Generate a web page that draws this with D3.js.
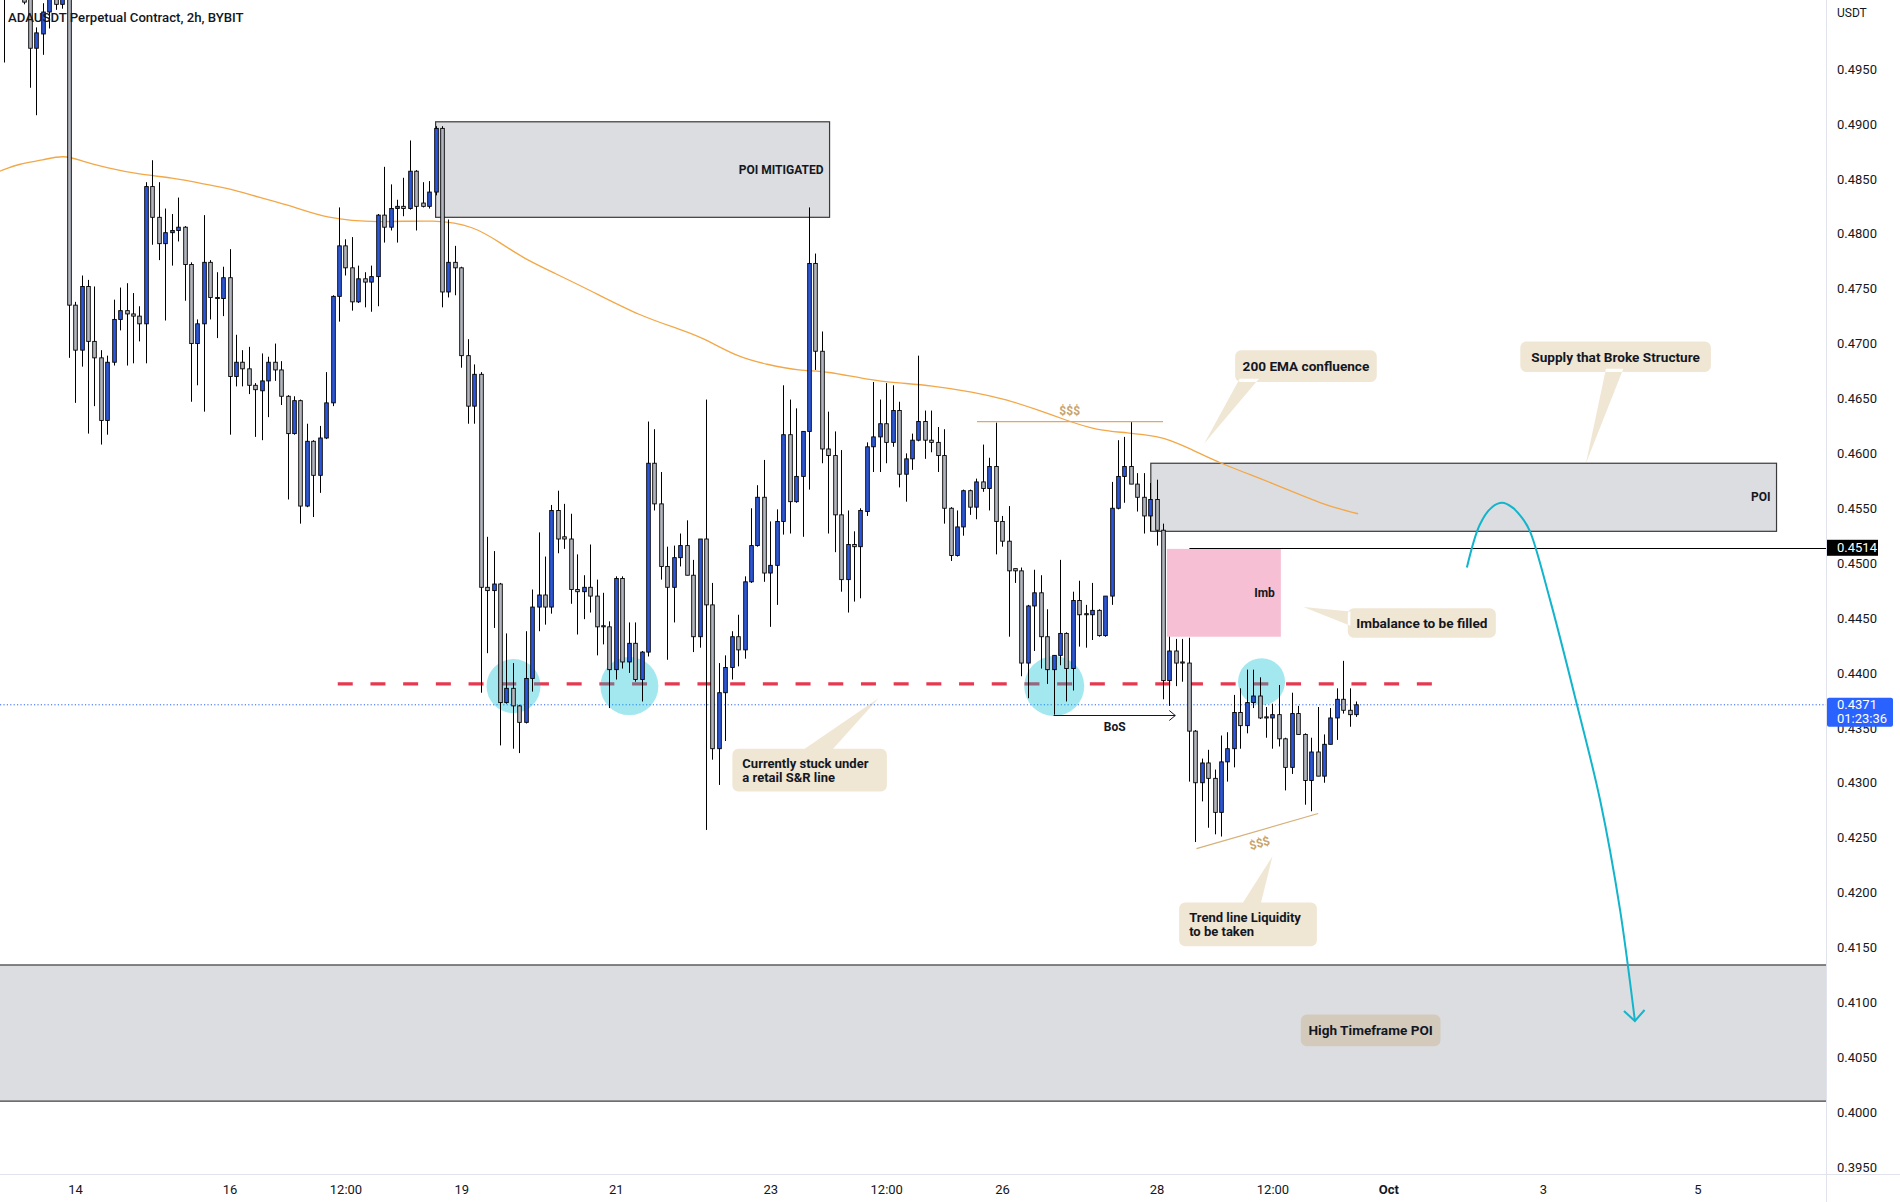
<!DOCTYPE html>
<html><head><meta charset="utf-8">
<script src="https://cdn.jsdelivr.net/npm/d3@7"></script>
<style>
html,body{margin:0;padding:0;background:#fff;}
svg{display:block;font-family:Roboto,"Liberation Sans",sans-serif;}
</style></head><body>
<svg id="chart" width="1900" height="1202"></svg>
<script>
// ---------------- DATA ----------------
const title = "ADAUSDT Perpetual Contract, 2h, BYBIT";
const firstCandleUTC = Date.UTC(2022, 8, 13, 2); // Sep 13 02:00, 2h bars
// [open, high, low, close]
const ohlc = [
[0.5035,0.5040,0.4956,0.5020],[0.5020,0.5060,0.5015,0.5045],[0.5045,0.5070,0.5018,0.5025],[0.5025,0.5030,0.5009,0.5011],
[0.5018,0.5022,0.4933,0.4969],[0.4969,0.4988,0.4908,0.4983],[0.4982,0.5010,0.4963,0.5002],[0.5002,0.5022,0.4987,0.5016],
[0.5020,0.5026,0.5004,0.5009],[0.5009,0.5024,0.5005,0.5018],[0.5018,0.5024,0.4687,0.4735],
[0.4735,0.4738,0.4646,0.4694],[0.4694,0.4762,0.4679,0.4752],[0.4752,0.4758,0.4618,0.4702],[0.4702,0.4752,0.4643,0.4687],
[0.4687,0.4694,0.4608,0.4630],[0.4630,0.4689,0.4617,0.4683],[0.4683,0.4740,0.4680,0.4722],[0.4722,0.4751,0.4712,0.4730],
[0.4730,0.4755,0.4680,0.4727],[0.4727,0.4746,0.4682,0.4725],[0.4725,0.4734,0.4702,0.4718],[0.4718,0.4847,0.4682,0.4843],
[0.4843,0.4867,0.4790,0.4815],[0.4815,0.4847,0.4776,0.4791],[0.4791,0.4823,0.4721,0.4801],[0.4801,0.4818,0.4771,0.4803],
[0.4803,0.4833,0.4793,0.4806],[0.4806,0.4807,0.4739,0.4772],[0.4772,0.4774,0.4647,0.4700],[0.4700,0.4722,0.4662,0.4718],
[0.4718,0.4817,0.4638,0.4774],[0.4774,0.4776,0.4722,0.4742],[0.4742,0.4765,0.4705,0.4741],[0.4741,0.4770,0.4725,0.4760],
[0.4760,0.4786,0.4617,0.4670],[0.4670,0.4708,0.4661,0.4683],[0.4683,0.4694,0.4661,0.4677],[0.4677,0.4697,0.4654,0.4662],
[0.4662,0.4664,0.4615,0.4658],[0.4657,0.4691,0.4612,0.4666],[0.4666,0.4688,0.4633,0.4683],[0.4683,0.4700,0.4666,0.4676],
[0.4676,0.4684,0.4644,0.4652],[0.4652,0.4653,0.4558,0.4618],[0.4618,0.4652,0.4617,0.4648],[0.4648,0.4649,0.4536,0.4552],
[0.4552,0.4627,0.4551,0.4611],[0.4611,0.4612,0.4542,0.4580],[0.4580,0.4625,0.4564,0.4614],[0.4614,0.4674,0.4613,0.4646],
[0.4646,0.4744,0.4643,0.4743],[0.4743,0.4824,0.4720,0.4789],[0.4789,0.4795,0.4762,0.4769],[0.4769,0.4797,0.4730,0.4738],
[0.4738,0.4771,0.4737,0.4759],[0.4759,0.4765,0.4733,0.4756],[0.4756,0.4771,0.4729,0.4761],[0.4761,0.4818,0.4734,0.4817],
[0.4817,0.4861,0.4792,0.4806],[0.4806,0.4845,0.4803,0.4823],[0.4823,0.4831,0.4792,0.4825],[0.4825,0.4851,0.4816,0.4823],
[0.4823,0.4885,0.4822,0.4857],[0.4857,0.4858,0.4803,0.4825],[0.4828,0.4847,0.4824,0.4825],[0.4825,0.4848,0.4823,0.4838],
[0.4838,0.4898,0.4835,0.4896],[0.4896,0.4898,0.4733,0.4747],[0.4747,0.4813,0.4742,0.4774],[0.4774,0.4789,0.4744,0.4769],
[0.4769,0.4770,0.4678,0.4689],[0.4689,0.4704,0.4627,0.4643],[0.4643,0.4681,0.4627,0.4672],[0.4672,0.4674,0.4382,0.4478],
[0.4478,0.4524,0.4418,0.4475],[0.4475,0.4511,0.4441,0.4481],[0.4481,0.4482,0.4334,0.4373],[0.4373,0.4436,0.4372,0.4386],
[0.4386,0.4409,0.4331,0.4370],[0.4370,0.4371,0.4327,0.4355],[0.4355,0.4438,0.4354,0.4395],[0.4395,0.4476,0.4383,0.4460],
[0.4460,0.4528,0.4438,0.4471],[0.4471,0.4506,0.4444,0.4460],[0.4460,0.4553,0.4454,0.4548],[0.4548,0.4566,0.4509,0.4522],
[0.4524,0.4554,0.4513,0.4522],[0.4522,0.4545,0.4463,0.4476],[0.4476,0.4508,0.4435,0.4474],[0.4474,0.4489,0.4449,0.4478],
[0.4478,0.4517,0.4455,0.4470],[0.4470,0.4485,0.4416,0.4442],[0.4443,0.4473,0.4426,0.4442],[0.4442,0.4447,0.4368,0.4403],
[0.4403,0.4488,0.4394,0.4486],[0.4486,0.4488,0.4404,0.4410],[0.4410,0.4446,0.4400,0.4427],[0.4427,0.4446,0.4392,0.4394],
[0.4394,0.4420,0.4374,0.4419],[0.4419,0.4629,0.4415,0.4591],[0.4591,0.4622,0.4548,0.4554],[0.4554,0.4583,0.4485,0.4497],
[0.4497,0.4515,0.4412,0.4478],[0.4478,0.4516,0.4446,0.4505],[0.4505,0.4527,0.4497,0.4516],[0.4516,0.4539,0.4489,0.4489],
[0.4489,0.4503,0.4419,0.4433],[0.4433,0.4522,0.4423,0.4522],[0.4522,0.4649,0.4257,0.4462],[0.4462,0.4482,0.4321,0.4331],
[0.4331,0.4409,0.4298,0.4382],[0.4382,0.4416,0.4338,0.4405],[0.4405,0.4438,0.4394,0.4433],[0.4433,0.4453,0.4406,0.4421],
[0.4421,0.4488,0.4413,0.4483],[0.4483,0.4550,0.4482,0.4516],[0.4516,0.4571,0.4515,0.4560],[0.4560,0.4594,0.4483,0.4491],
[0.4491,0.4538,0.4442,0.4498],[0.4498,0.4549,0.4462,0.4538],[0.4538,0.4662,0.4526,0.4617],[0.4617,0.4649,0.4527,0.4556],
[0.4556,0.4641,0.4555,0.4579],[0.4579,0.4620,0.4524,0.4620],[0.4620,0.4824,0.4567,0.4773],[0.4773,0.4782,0.4676,0.4693],
[0.4693,0.4711,0.4591,0.4604],[0.4604,0.4638,0.4527,0.4598],[0.4598,0.4620,0.4510,0.4544],[0.4544,0.4603,0.4474,0.4485],
[0.4485,0.4548,0.4455,0.4517],[0.4517,0.4529,0.4465,0.4515],[0.4515,0.4550,0.4468,0.4548],[0.4547,0.4610,0.4543,0.4606],
[0.4606,0.4665,0.4583,0.4615],[0.4615,0.4649,0.4583,0.4627],[0.4627,0.4664,0.4591,0.4610],[0.4610,0.4662,0.4606,0.4639],
[0.4639,0.4647,0.4569,0.4581],[0.4581,0.4600,0.4556,0.4595],[0.4595,0.4618,0.4585,0.4612],[0.4612,0.4689,0.4611,0.4629],
[0.4629,0.4639,0.4595,0.4612],[0.4612,0.4639,0.4601,0.4610],[0.4610,0.4624,0.4583,0.4598],[0.4598,0.4622,0.4536,0.4550],
[0.4550,0.4551,0.4502,0.4507],[0.4507,0.4548,0.4506,0.4533],[0.4533,0.4567,0.4525,0.4566],[0.4566,0.4567,0.4544,0.4551],
[0.4551,0.4577,0.4540,0.4574],[0.4574,0.4608,0.4565,0.4568],[0.4568,0.4596,0.4548,0.4588],[0.4588,0.4628,0.4508,0.4538],
[0.4538,0.4543,0.4515,0.4520],[0.4520,0.4552,0.4433,0.4493],[0.4495,0.4495,0.4482,0.4493],[0.4493,0.4496,0.4397,0.4409],
[0.4409,0.4462,0.4377,0.4461],[0.4461,0.4494,0.4420,0.4473],[0.4473,0.4489,0.4404,0.4433],[0.4433,0.4458,0.4390,0.4403],
[0.4403,0.4416,0.4362,0.4416],[0.4416,0.4503,0.4407,0.4436],[0.4436,0.4437,0.4374,0.4404],[0.4404,0.4474,0.4384,0.4466],
[0.4466,0.4484,0.4424,0.4453],[0.4454,0.4462,0.4423,0.4453],[0.4453,0.4482,0.4430,0.4457],[0.4457,0.4458,0.4433,0.4434],
[0.4434,0.4470,0.4433,0.4470],[0.4470,0.4574,0.4462,0.4550],[0.4550,0.4612,0.4549,0.4579],[0.4579,0.4615,0.4555,0.4588],
[0.4588,0.4629,0.4572,0.4572],[0.4572,0.4582,0.4547,0.4560],[0.4560,0.4582,0.4527,0.4543],[0.4543,0.4573,0.4529,0.4558],
[0.4558,0.4576,0.4516,0.4530],[0.4530,0.4536,0.4376,0.4393],[0.4393,0.4433,0.4370,0.4420],[0.4420,0.4431,0.4388,0.4409],
[0.4410,0.4431,0.4392,0.4409],[0.4409,0.4432,0.4301,0.4347],[0.4347,0.4348,0.4246,0.4300],[0.4300,0.4322,0.4283,0.4318],
[0.4318,0.4330,0.4259,0.4304],[0.4304,0.4312,0.4253,0.4273],[0.4273,0.4343,0.4251,0.4319],[0.4319,0.4346,0.4301,0.4331],
[0.4331,0.4380,0.4314,0.4364],[0.4364,0.4386,0.4331,0.4352],[0.4352,0.4403,0.4345,0.4373],[0.4373,0.4403,0.4368,0.4379],
[0.4379,0.4396,0.4358,0.4359],[0.4360,0.4369,0.4341,0.4359],[0.4359,0.4372,0.4331,0.4362],[0.4362,0.4389,0.4333,0.4340],
[0.4340,0.4341,0.4293,0.4314],[0.4314,0.4382,0.4308,0.4363],[0.4363,0.4370,0.4344,0.4344],[0.4344,0.4345,0.4280,0.4302],
[0.4302,0.4341,0.4274,0.4328],[0.4328,0.4369,0.4306,0.4306],[0.4306,0.4344,0.4300,0.4335],[0.4335,0.4368,0.4335,0.4359],
[0.4359,0.4386,0.4339,0.4376],[0.4376,0.4411,0.4363,0.4366],[0.4366,0.4386,0.4351,0.4362],[0.4362,0.4374,0.4360,0.4371]
];
// 200 EMA, [bar index from Sep 14 00:00, value]
const emaPoints = [[-11.7,0.4857],[-8.6,0.4864],[-5,0.4867],[-1.8,0.4872],[1.2,0.4866],[4.9,0.4860],[10,0.4854],[15.2,0.4851],
[19.4,0.4846],[23.5,0.4842],[28.7,0.4833],[33.9,0.4825],[39,0.4814],[46.9,0.4810],[56.2,0.4813],[61.9,0.4807],[66,0.4792],
[69.6,0.4778],[73.8,0.4766],[80.5,0.4747],[87.8,0.4725],[94.5,0.4712],[97.6,0.4705],[102.8,0.4688],[107.4,0.4681],
[112.6,0.4675],[116.8,0.4675],[123,0.4667],[128.1,0.4664],[132.8,0.4662],[139.5,0.4656],[144.7,0.4649],[149.4,0.4640],
[154,0.4630],[158.7,0.4621],[163.4,0.4619],[168.5,0.4615],[170,0.4612],[173,0.4605],[177.8,0.4591],[186,0.4573],
[193.9,0.4553],[199.3,0.4545]];
const priceTicks = [0.3950,0.4000,0.4050,0.4100,0.4150,0.4200,0.4250,0.4300,0.4350,0.4400,0.4450,0.4500,
  0.4550,0.4600,0.4650,0.4700,0.4750,0.4800,0.4850,0.4900,0.4950];
const timeTicks = [[Date.UTC(2022,8,14),"14"],[Date.UTC(2022,8,16),"16"],[Date.UTC(2022,8,17,12),"12:00"],
  [Date.UTC(2022,8,19),"19"],[Date.UTC(2022,8,21),"21"],[Date.UTC(2022,8,23),"23"],[Date.UTC(2022,8,24,12),"12:00"],
  [Date.UTC(2022,8,26),"26"],[Date.UTC(2022,8,28),"28"],[Date.UTC(2022,8,29,12),"12:00"],[Date.UTC(2022,9,1),"Oct"],
  [Date.UTC(2022,9,3),"3"],[Date.UTC(2022,9,5),"5"]];
const lastPrice = 0.4371, countdown = "01:23:36";
const markLevel = {price:0.4514, from:173.1};
const srLine = {price:0.4390, from:40.8, to:213.5};
const zones = [ // [idx from, idx to, top price, bottom price, label]
  {from:56, to:117.2, top:0.4902, bottom:0.4815, label:"POI MITIGATED"},
  {from:167.1, to:264.3, top:0.4591, bottom:0.4529, label:"POI"}];
const imbZone = {from:169.6, to:187.3, top:0.4513, bottom:0.4433, label:"Imb"};
const htfZone = {top:0.4134, bottom:0.4010};
const touchCircles = [[68.1,0.4388,27],[86.1,0.4388,29],[152.1,0.4388,30],[184.3,0.4392,23.5]];
const liqTop = {from:140.1, to:169, price:0.4629, textAt:[154.5,0.4639]};
const liqTrend = {p0:[174.2,0.4240], p1:[193.1,0.4272], textAt:[184,0.4245]};
const bos = {from:152, to:170.9, price:0.4362, textAt:[161.5,0.4351]};
const projection = [[216.2,0.4496],[218.2,0.4535],[220.1,0.4551],[221.7,0.4555],[223.2,0.4551],[224.8,0.4541],
  [226.0,0.4529],[229.1,0.4467],[233.3,0.4371],[236.9,0.4284],[240.0,0.4184],[242.3,0.4083]];
const projHead = [[240.6,0.4092],[242.3,0.4083],[243.8,0.4093]];
const callouts = [
  {lines:["200 EMA confluence"], box:[180.2,202.2,0.4694,0.4665], tip:[175.4,0.4609], base:[[180.9,0.4668],[183.9,0.4668]]},
  {lines:["Supply that Broke Structure"], box:[224.5,254.1,0.4702,0.4674], tip:[234.7,0.4591], base:[[237.8,0.4677],[240.5,0.4677]]},
  {lines:["Imbalance to be filled"], box:[197.7,220.7,0.4459,0.4432], tip:[190.8,0.4460], base:[[198.1,0.4456],[198.1,0.4443]]},
  {lines:["Currently stuck under","a retail S&R line"], box:[102.1,126.1,0.4331,0.4292], tip:[124.8,0.4377], base:[[112.6,0.4328],[117.3,0.4328]]},
  {lines:["Trend line Liquidity","to be taken"], box:[171.5,192.9,0.4191,0.4151], tip:[186,0.4233], base:[[181.1,0.4188],[184.1,0.4188]]},
  {lines:["High Timeframe POI"], box:[190.4,212.1,0.4089,0.4060]}
];

// ---------------- DRAW ----------------
const W = 1900, H = 1202, plotR = 1826, plotB = 1174;
const H2 = 7200000, base = Date.UTC(2022,8,14);
const svg = d3.select("#chart");
const x = d3.scaleUtc().domain([new Date(base), new Date(Date.UTC(2022,9,5))]).range([75.1, 1697.35]);
const y = d3.scaleLinear().domain([0.395, 0.495]).range([1167, 69.1]);
const xi = i => x(new Date(base + i * H2));

svg.append("rect").attr("width", W).attr("height", H).attr("fill", "#fff");
svg.append("defs").append("clipPath").attr("id", "plot").append("rect")
  .attr("x", 0).attr("y", 0).attr("width", plotR).attr("height", plotB);
const g = svg.append("g").attr("clip-path", "url(#plot)");

// HTF zone
g.append("rect").attr("x", -5).attr("width", plotR + 10)
  .attr("y", y(htfZone.top)).attr("height", y(htfZone.bottom) - y(htfZone.top))
  .attr("fill", "#dcdde1").attr("stroke", "#3a3a3a").attr("stroke-width", 1.2);

// zones
zones.forEach(z => {
  g.append("rect").attr("x", xi(z.from)).attr("y", y(z.top))
    .attr("width", xi(z.to) - xi(z.from)).attr("height", y(z.bottom) - y(z.top))
    .attr("fill", "#dcdde1").attr("stroke", "#3a3a3a").attr("stroke-width", 1.2);
});
g.append("rect").attr("x", xi(imbZone.from)).attr("y", y(imbZone.top))
  .attr("width", xi(imbZone.to) - xi(imbZone.from)).attr("height", y(imbZone.bottom) - y(imbZone.top))
  .attr("fill", "#f6bfd3");

// EMA
g.append("path").datum(emaPoints)
  .attr("d", d3.line().x(d => xi(d[0])).y(d => y(d[1])).curve(d3.curveBasis))
  .attr("fill", "none").attr("stroke", "#f2a848").attr("stroke-width", 1.3);

// current price dotted line
g.append("line").attr("x1", 0).attr("x2", plotR).attr("y1", y(lastPrice)).attr("y2", y(lastPrice))
  .attr("stroke", "#2962ff").attr("stroke-width", 1).attr("stroke-dasharray", "1.2,2.2");

// S&R dashed line
g.append("line").attr("x1", xi(srLine.from)).attr("x2", xi(srLine.to))
  .attr("y1", y(srLine.price)).attr("y2", y(srLine.price))
  .attr("stroke", "#e63950").attr("stroke-width", 3.2).attr("stroke-dasharray", "15,17.7");

// circles
touchCircles.forEach(c => {
  g.append("circle").attr("cx", xi(c[0])).attr("cy", y(c[1])).attr("r", c[2])
    .attr("fill", "rgb(0,188,212)").attr("fill-opacity", 0.36);
});

// candles
const bars = ohlc.map((d, k) => ({t: new Date(firstCandleUTC + k * H2), o: d[0], h: d[1], l: d[2], c: d[3]}));
const cg = g.append("g");
bars.forEach(b => {
  const cx = Math.round(x(b.t));
  cg.append("line").attr("x1", cx + 0.5).attr("x2", cx + 0.5).attr("y1", y(b.h)).attr("y2", y(b.l))
    .attr("stroke", "#000").attr("stroke-width", 1);
  const top = y(Math.max(b.o, b.c)), bot = y(Math.min(b.o, b.c));
  cg.append("rect").attr("x", cx - 1.3).attr("width", 3.6)
    .attr("y", top).attr("height", Math.max(1, bot - top))
    .attr("fill", b.c >= b.o ? "#2c57dd" : "#b2b5be")
    .attr("stroke", "#000").attr("stroke-width", 0.9);
});

// liquidity lines
g.append("line").attr("x1", xi(liqTop.from)).attr("x2", xi(liqTop.to))
  .attr("y1", y(liqTop.price)).attr("y2", y(liqTop.price)).attr("stroke", "#e3a765").attr("stroke-width", 1.2);
g.append("text").attr("x", xi(liqTop.textAt[0])).attr("y", y(liqTop.textAt[1])).attr("dy", "0.35em")
  .attr("text-anchor", "middle").attr("font-size", 12).attr("font-weight", 700).attr("fill", "#c9a36a").text("$$$");
g.append("line").attr("x1", xi(liqTrend.p0[0])).attr("y1", y(liqTrend.p0[1]))
  .attr("x2", xi(liqTrend.p1[0])).attr("y2", y(liqTrend.p1[1])).attr("stroke", "#d8b07a").attr("stroke-width", 1.2);
{
  const ang = Math.atan2(y(liqTrend.p1[1]) - y(liqTrend.p0[1]), xi(liqTrend.p1[0]) - xi(liqTrend.p0[0])) * 180 / Math.PI;
  const tx = xi(liqTrend.textAt[0]), ty = y(liqTrend.textAt[1]);
  g.append("text").attr("transform", `translate(${tx},${ty}) rotate(${ang})`).attr("dy", "0.35em")
    .attr("text-anchor", "middle").attr("font-size", 12).attr("font-weight", 700).attr("fill", "#c9a36a").text("$$$");
}

// mark level line
g.append("line").attr("x1", xi(markLevel.from)).attr("x2", plotR)
  .attr("y1", Math.round(y(markLevel.price)) + 0.5).attr("y2", Math.round(y(markLevel.price)) + 0.5)
  .attr("stroke", "#000").attr("stroke-width", 1);

// BoS
{
  const by = Math.round(y(bos.price)) + 0.5, x1 = xi(bos.to);
  g.append("line").attr("x1", xi(bos.from)).attr("x2", x1).attr("y1", by).attr("y2", by).attr("stroke", "#131722").attr("stroke-width", 1);
  g.append("path").attr("d", `M${x1 - 6},${by - 5}L${x1},${by}L${x1 - 6},${by + 5}`)
    .attr("fill", "none").attr("stroke", "#131722").attr("stroke-width", 1);
  g.append("text").attr("x", xi(bos.textAt[0])).attr("y", y(bos.textAt[1])).attr("dy", "0.35em")
    .attr("text-anchor", "middle").attr("font-size", 12).attr("font-weight", 700).attr("fill", "#131722").text("BoS");
}

// zone labels
zones.forEach(z => {
  g.append("text").attr("x", xi(z.to) - 6).attr("y", (y(z.top) + y(z.bottom)) / 2).attr("dy", "0.35em")
    .attr("text-anchor", "end").attr("font-size", 12).attr("font-weight", 700).attr("fill", "#131722").text(z.label);
});
g.append("text").attr("x", xi(imbZone.to) - 6).attr("y", (y(imbZone.top) + y(imbZone.bottom)) / 2).attr("dy", "0.35em")
  .attr("text-anchor", "end").attr("font-size", 12).attr("font-weight", 700).attr("fill", "#131722").text(imbZone.label);

// callouts
callouts.forEach(c => {
  const x0 = xi(c.box[0]), x1 = xi(c.box[1]), y0 = y(c.box[2]), y1 = y(c.box[3]), r = 6;
  const p = d3.path();
  p.moveTo(x0 + r, y0); p.lineTo(x1 - r, y0); p.arcTo(x1, y0, x1, y0 + r, r);
  p.lineTo(x1, y1 - r); p.arcTo(x1, y1, x1 - r, y1, r); p.lineTo(x0 + r, y1);
  p.arcTo(x0, y1, x0, y1 - r, r); p.lineTo(x0, y0 + r); p.arcTo(x0, y0, x0 + r, y0, r); p.closePath();
  if (c.tip) {
    p.moveTo(xi(c.base[0][0]), y(c.base[0][1])); p.lineTo(xi(c.tip[0]), y(c.tip[1]));
    p.lineTo(xi(c.base[1][0]), y(c.base[1][1])); p.closePath();
  }
  g.append("path").attr("d", p.toString()).attr("fill", "rgb(182,128,40)").attr("fill-opacity", 0.2);
  const cy = (y0 + y1) / 2, n = c.lines.length, lh = 14;
  c.lines.forEach((ln, k) => {
    g.append("text").attr("font-size", n > 1 ? 13 : 13.6).attr("font-weight", 700).attr("fill", "#131722")
      .attr("text-anchor", n > 1 ? "start" : "middle")
      .attr("x", n > 1 ? x0 + 10 : (x0 + x1) / 2)
      .attr("y", cy + (k - (n - 1) / 2) * lh).attr("dy", "0.35em").text(ln);
  });
});

// projection arrow
g.append("path").datum(projection)
  .attr("d", d3.line().x(d => xi(d[0])).y(d => y(d[1])).curve(d3.curveCatmullRom.alpha(0.5)))
  .attr("fill", "none").attr("stroke", "#12b5cb").attr("stroke-width", 2);
g.append("path").datum(projHead)
  .attr("d", d3.line().x(d => xi(d[0])).y(d => y(d[1])))
  .attr("fill", "none").attr("stroke", "#12b5cb").attr("stroke-width", 2);

// title
svg.append("text").attr("x", 8).attr("y", 21.5).attr("font-size", 13.2).attr("font-weight", 500)
  .attr("fill", "#131722").text(title);

// axes frame lines
svg.append("line").attr("x1", 0).attr("x2", W).attr("y1", plotB + 0.5).attr("y2", plotB + 0.5).attr("stroke", "#e0e3eb");
svg.append("line").attr("x1", plotR + 0.5).attr("x2", plotR + 0.5).attr("y1", 0).attr("y2", H).attr("stroke", "#e0e3eb");

// price axis
const ya = svg.append("g").attr("transform", `translate(${plotR},0)`)
  .call(d3.axisRight(y).tickValues(priceTicks).tickFormat(d3.format(".4f")).tickSize(0).tickPadding(11));
ya.select(".domain").remove();
ya.selectAll("text").attr("font-family", "Roboto, sans-serif").attr("font-size", 13).attr("fill", "#131722");
svg.append("text").attr("x", plotR + 11).attr("y", 13).attr("dy", "0.35em").attr("font-size", 12)
  .attr("fill", "#131722").text("USDT");

// time axis
const xa = svg.append("g").attr("transform", `translate(0,${plotB})`)
  .call(d3.axisBottom(x).tickValues(timeTicks.map(d => new Date(d[0]))).tickFormat((d, i) => timeTicks[i][1]).tickSize(0).tickPadding(10.5));
xa.select(".domain").remove();
xa.selectAll("text").attr("font-family", "Roboto, sans-serif").attr("font-size", 13).attr("fill", "#131722")
  .attr("font-weight", (d, i) => timeTicks[i][1] === "Oct" ? 700 : 400);

// price labels on axis
{
  const my = y(markLevel.price);
  svg.append("rect").attr("x", plotR + 1).attr("y", my - 8).attr("width", 51).attr("height", 16).attr("fill", "#000");
  svg.append("text").attr("x", plotR + 11).attr("y", my).attr("dy", "0.35em").attr("font-size", 13)
    .attr("fill", "#fff").text(d3.format(".4f")(markLevel.price));
  const ly = y(lastPrice);
  svg.append("rect").attr("x", plotR + 1).attr("y", ly - 7).attr("width", 66).attr("height", 29).attr("rx", 2).attr("fill", "#2962ff");
  svg.append("text").attr("x", plotR + 11).attr("y", ly).attr("dy", "0.35em").attr("font-size", 13)
    .attr("fill", "#fff").text(d3.format(".4f")(lastPrice));
  svg.append("text").attr("x", plotR + 11).attr("y", ly + 14).attr("dy", "0.35em").attr("font-size", 13)
    .attr("fill", "#fff").text(countdown);
}
</script></body></html>
